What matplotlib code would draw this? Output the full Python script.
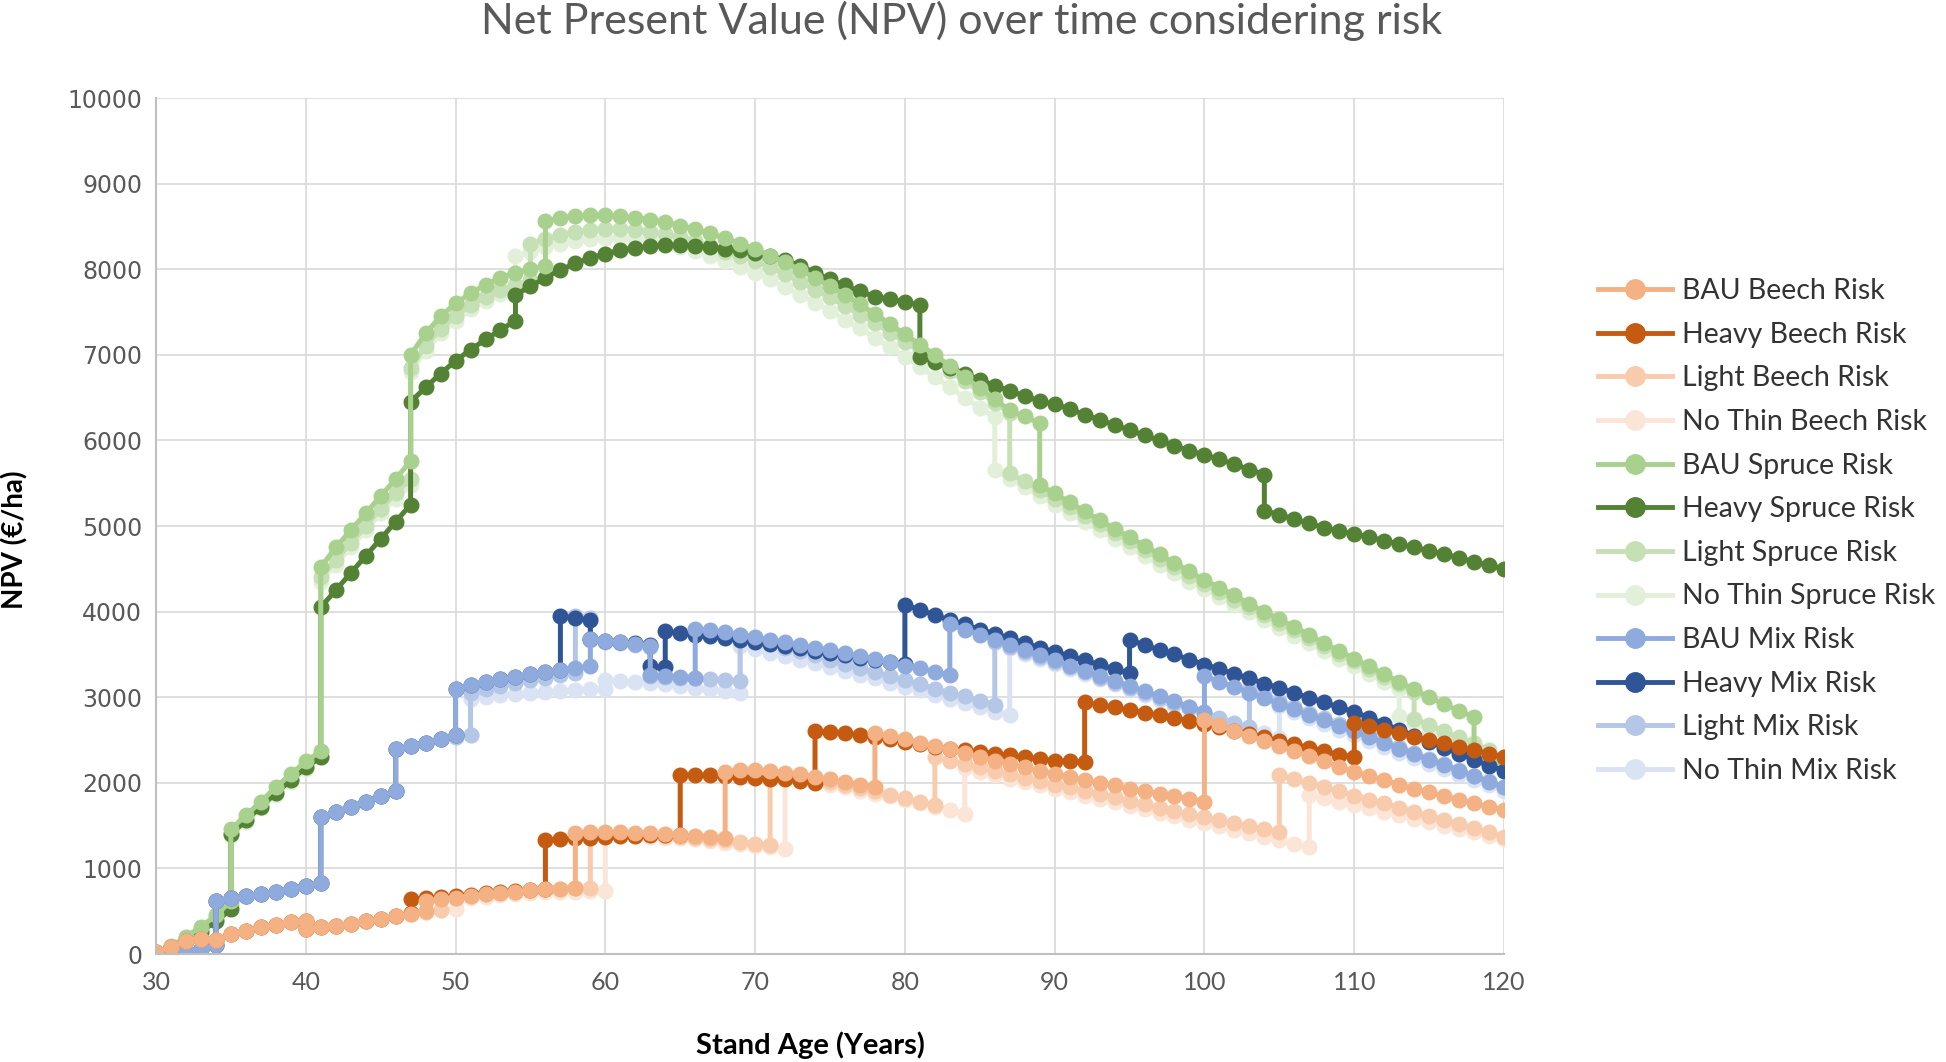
import numpy as np
import matplotlib
matplotlib.use("Agg")
import matplotlib.pyplot as plt
from matplotlib.lines import Line2D

# Each series is a list of (start age, NPV values one year apart).
# A segment that starts at the age where the previous one ended gives the
# vertical jump of a thinning / risk event.

beech_start = [20, 80, 150, 180, 160, 230, 270, 310, 340, 370, 390]  # ages 30..40

bau_beech = [(30, beech_start),
             (40, [290, 310, 330, 350, 380, 410, 440, 470, 500]),
             (48, [620, 640, 660, 680, 700, 715, 730, 745, 755, 765, 775]),
             (58, [1410, 1420, 1420, 1420, 1415, 1410, 1400, 1390, 1380, 1370, 1355]),
             (68, [2130, 2150, 2150, 2140, 2120, 2100, 2070, 2040, 2010, 1980, 1950]),
             (78, [2580, 2550, 2510, 2470, 2430, 2390, 2350, 2300, 2260, 2220, 2180, 2140,
                   2100, 2070, 2030, 2000, 1970, 1930, 1900, 1870, 1840, 1810, 1780]),
             (100, [2730, 2670, 2610, 2550, 2490, 2430, 2370, 2310, 2250, 2190, 2130,
                    2080, 2030, 1980, 1930, 1890, 1840, 1800, 1760, 1720, 1680])]

heavy_beech = [(30, beech_start),
               (40, [290, 310, 330, 350, 380, 410, 440, 480]),
               (47, [640, 650, 665, 680, 695, 710, 725, 740, 750, 760]),
               (56, [1330, 1340, 1350, 1360, 1370, 1375, 1380, 1385, 1390, 1390]),
               (65, [2090, 2090, 2090, 2080, 2070, 2060, 2050, 2040, 2020, 2000]),
               (74, [2600, 2590, 2580, 2560, 2540, 2510, 2480, 2450, 2420, 2400, 2380,
                     2360, 2340, 2320, 2300, 2280, 2260, 2250, 2240]),
               (92, [2940, 2910, 2880, 2850, 2820, 2790, 2760, 2720, 2690, 2650, 2610,
                     2570, 2530, 2490, 2450, 2410, 2370, 2330, 2300]),
               (110, [2700, 2660, 2620, 2580, 2540, 2500, 2460, 2420, 2380, 2340, 2300])]

light_beech = [(30, beech_start),
               (40, [290, 310, 330, 350, 380, 410, 440, 470, 490, 510]),
               (49, [640, 660, 680, 700, 715, 730, 745, 755, 765, 770, 775]),
               (59, [1400, 1400, 1400, 1395, 1390, 1380, 1370, 1360, 1345, 1330, 1310, 1290, 1270]),
               (71, [2120, 2100, 2070, 2040, 2010, 1970, 1940, 1900, 1860, 1820, 1780, 1740]),
               (82, [2300, 2260, 2220, 2180, 2140, 2100, 2060, 2020, 1980, 1950, 1910, 1870,
                     1830, 1790, 1750, 1710, 1670, 1630, 1600, 1560, 1530, 1490, 1460, 1420]),
               (105, [2090, 2040, 2000, 1950, 1900, 1850, 1800, 1760, 1710, 1660, 1610,
                      1570, 1520, 1470, 1420, 1370])]

nothin_beech = [(30, beech_start),
                (40, [290, 310, 330, 350, 380, 410, 440, 470, 490, 510, 520]),
                (50, [630, 650, 670, 690, 700, 710, 720, 725, 730, 735, 740]),
                (60, [1380, 1380, 1375, 1370, 1360, 1350, 1340, 1320, 1300, 1280, 1260, 1250, 1230]),
                (72, [2080, 2050, 2020, 1980, 1950, 1910, 1870, 1840, 1800, 1760, 1720, 1680, 1640]),
                (84, [2170, 2130, 2090, 2050, 2010, 1970, 1930, 1890, 1850, 1810, 1770, 1730,
                      1690, 1650, 1610, 1570, 1530, 1490, 1450, 1410, 1370, 1330, 1290, 1250]),
                (107, [1860, 1820, 1780, 1740, 1700, 1660, 1620, 1580, 1540, 1500, 1460,
                       1420, 1380, 1340])]

bau_spruce = [(30, [0, 90, 200, 320, 450, 620]),
              (35, [1460, 1620, 1780, 1950, 2100, 2250, 2370]),
              (41, [4520, 4750, 4950, 5150, 5350, 5550, 5760]),
              (47, [7000, 7250, 7450, 7600, 7720, 7820, 7900, 7960, 8000, 8040]),
              (56, [8560, 8600, 8620, 8630, 8630, 8620, 8600, 8580, 8550, 8510, 8470, 8420,
                    8360, 8300, 8240, 8160, 8080, 7990, 7900, 7800, 7700, 7590, 7480, 7360,
                    7240, 7120, 7000, 6870, 6740, 6610, 6480, 6350, 6280, 6200]),
              (89, [5480, 5380, 5280, 5170, 5070, 4970, 4870, 4770, 4670, 4570, 4470, 4370,
                    4280, 4190, 4090, 4000, 3910, 3820, 3730, 3630, 3540, 3450, 3360, 3270,
                    3180, 3090, 3000, 2920, 2840, 2770]),
              (118, [2330, 2260, 2200])]

heavy_spruce = [(30, [0, 70, 160, 260, 380, 520]),
                (35, [1400, 1560, 1720, 1880, 2030, 2180, 2300]),
                (41, [4050, 4250, 4450, 4650, 4850, 5050, 5250]),
                (47, [6450, 6620, 6780, 6930, 7060, 7180, 7290, 7400]),
                (54, [7700, 7800, 7900, 7990, 8070, 8130, 8180, 8220, 8250, 8270, 8280, 8280,
                      8270, 8260, 8240, 8220, 8190, 8150, 8110, 8040, 7960, 7880, 7810, 7740,
                      7680, 7650, 7620, 7580]),
                (81, [6980, 6920, 6850, 6780, 6710, 6640, 6580, 6520, 6460, 6420, 6370, 6300,
                      6240, 6180, 6120, 6060, 6000, 5940, 5880, 5830, 5780, 5720, 5660, 5600]),
                (104, [5180, 5130, 5080, 5030, 4980, 4940, 4910, 4870, 4830, 4790, 4750,
                       4710, 4670, 4630, 4580, 4540, 4500])]

light_spruce = [(30, [0, 80, 180, 290, 420, 580]),
                (35, [1400, 1560, 1720, 1890, 2040, 2190, 2330]),
                (41, [4400, 4600, 4800, 5000, 5200, 5380, 5550]),
                (47, [6850, 7100, 7300, 7450, 7580, 7680, 7760, 7820, 7870]),
                (55, [8300, 8350, 8400, 8440, 8460, 8470, 8470, 8460, 8440, 8410, 8380, 8330,
                      8270, 8200, 8150, 8100, 8020, 7940, 7850, 7760, 7670, 7570, 7470, 7370,
                      7260, 7150, 7040, 6930, 6810, 6690, 6570, 6440, 6320]),
                (87, [5620, 5520, 5420, 5320, 5220, 5120, 5020, 4920, 4820, 4720, 4620, 4520,
                      4420, 4320, 4230, 4140, 4050, 3960, 3870, 3780, 3690, 3600, 3510, 3420,
                      3330, 3240, 3150, 3060]),
                (114, [2750, 2680, 2600, 2530, 2460, 2380, 2300])]

nothin_spruce = [(30, [0, 70, 170, 280, 400, 560]),
                 (35, [1380, 1540, 1700, 1860, 2010, 2160, 2300]),
                 (41, [4350, 4550, 4750, 4950, 5150, 5320, 5480]),
                 (47, [6800, 7050, 7250, 7400, 7530, 7630, 7710, 7770]),
                 (54, [8150, 8200, 8260, 8300, 8330, 8350, 8360, 8360, 8350, 8330, 8300, 8260,
                       8210, 8150, 8090, 8030, 7960, 7880, 7790, 7700, 7610, 7510, 7410, 7310,
                       7200, 7090, 6980, 6860, 6740, 6620, 6500, 6380, 6270]),
                 (86, [5650, 5550, 5450, 5350, 5250, 5150, 5050, 4950, 4850, 4750, 4650, 4550,
                       4450, 4350, 4260, 4170, 4080, 3990, 3900, 3810, 3720, 3630, 3540, 3450,
                       3360, 3270, 3180, 3090]),
                 (113, [2780, 2700, 2630, 2560, 2490, 2410, 2340, 2270])]

mix_start = [0, 10, 30, 60, 100]                       # ages 30..34
mix_34 = [620, 650, 680, 700, 730, 760, 800, 830]      # ages 34..41
mix_41 = [1600, 1660, 1720, 1780, 1840, 1900]          # ages 41..46

bau_mix = [(30, mix_start), (34, mix_34), (41, mix_41),
           (46, [2390, 2430, 2470, 2510, 2560]),
           (50, [3100, 3140, 3180, 3210, 3240, 3270, 3290, 3320, 3340, 3360]),
           (59, [3680, 3660, 3640, 3620, 3600]),
           (63, [3260, 3250, 3240, 3230]),
           (66, [3800, 3780, 3760, 3730, 3700, 3670, 3640, 3610, 3580, 3550, 3520, 3480,
                 3450, 3410, 3370, 3340, 3300, 3260]),
           (83, [3850, 3790, 3730, 3670, 3610, 3550, 3490, 3430, 3370, 3310, 3250, 3190,
                 3130, 3070, 3010, 2950, 2890, 2830]),
           (100, [3250, 3180, 3120, 3050, 2990, 2920, 2860, 2790, 2730, 2660, 2600, 2530,
                  2470, 2400, 2340, 2270, 2210, 2140, 2080, 2010, 1950])]

heavy_mix = [(30, mix_start), (34, mix_34), (41, mix_41),
             (46, [2390, 2430, 2470, 2510, 2560]),
             (50, [3100, 3140, 3180, 3210, 3240, 3270, 3290, 3320]),
             (57, [3950, 3920, 3900]),
             (59, [3680, 3660, 3650, 3630, 3610]),
             (63, [3360, 3350]),
             (64, [3770, 3750, 3730, 3710, 3690, 3670, 3650, 3620, 3600, 3570, 3540, 3520,
                   3490, 3460, 3440, 3410, 3390]),
             (80, [4080, 4020, 3960, 3900, 3850, 3790, 3740, 3690, 3630, 3580, 3530, 3480,
                   3430, 3380, 3330, 3280]),
             (95, [3670, 3610, 3550, 3500, 3440, 3380, 3330, 3270, 3220, 3160, 3110, 3050,
                   2990, 2940, 2880, 2830, 2760, 2690, 2620, 2550, 2480, 2410, 2340, 2270,
                   2200, 2140])]

light_mix = [(30, mix_start), (34, mix_34), (41, mix_41),
             (46, [2390, 2430, 2470, 2510, 2540, 2560]),
             (51, [3050, 3090, 3130, 3170, 3200, 3230, 3260, 3280]),
             (58, [3950, 3930]),
             (59, [3670, 3650, 3630, 3610, 3590]),
             (63, [3250, 3240, 3230, 3220, 3210, 3200, 3190]),
             (69, [3730, 3680, 3630, 3580, 3540, 3490, 3440, 3390, 3340, 3290, 3250, 3200,
                   3150, 3100, 3050, 3010, 2960, 2910]),
             (86, [3650, 3590, 3530, 3470, 3410, 3350, 3290, 3230, 3170, 3110, 3050, 2990,
                   2930, 2880, 2820, 2760, 2700, 2650]),
             (103, [3100, 3030, 2960, 2890, 2820, 2760, 2690, 2620, 2550, 2490, 2420, 2350,
                    2280, 2220, 2150, 2080, 2020, 1950])]

nothin_mix = [(30, mix_start), (34, mix_34), (41, mix_41),
              (46, [2390, 2430, 2470, 2510, 2540, 2560]),
              (51, [2980, 3000, 3020, 3040, 3050, 3060, 3070, 3080, 3090, 3100]),
              (60, [3200, 3190, 3180, 3170, 3150, 3130, 3110, 3090, 3070, 3050]),
              (69, [3600, 3560, 3520, 3480, 3440, 3400, 3350, 3310, 3260, 3220, 3170, 3120,
                    3080, 3030, 2980, 2930, 2880, 2830, 2790]),
              (87, [3570, 3510, 3450, 3390, 3330, 3270, 3210, 3150, 3090, 3030, 2970, 2910,
                    2860, 2800, 2740, 2690, 2630, 2580, 2520]),
              (105, [2900, 2830, 2760, 2690, 2620, 2560, 2490, 2420, 2350, 2290, 2220, 2160,
                     2090, 2030, 1970, 1900])]

legend_names = ["BAU Beech Risk", "Heavy Beech Risk", "Light Beech Risk", "No Thin Beech Risk",
                "BAU Spruce Risk", "Heavy Spruce Risk", "Light Spruce Risk", "No Thin Spruce Risk",
                "BAU Mix Risk", "Heavy Mix Risk", "Light Mix Risk", "No Thin Mix Risk"]
colors = ["#f4b183", "#c55a11", "#f8cbad", "#fbe5d6",
          "#a9d18e", "#548235", "#c5e0b4", "#e2f0d9",
          "#8faadc", "#2f5597", "#b4c7e7", "#dae3f3"]
series = [bau_beech, heavy_beech, light_beech, nothin_beech,
          bau_spruce, heavy_spruce, light_spruce, nothin_spruce,
          bau_mix, heavy_mix, light_mix, nothin_mix]

# drawing order: spruce, mix, beech; inside each group BAU ends on top
draw_order = [7, 6, 5, 4, 11, 10, 9, 8, 3, 2, 1, 0]


def expand(segments):
    ages, vals = [], []
    for start, values in segments:
        ages.extend(start + np.arange(len(values)))
        vals.extend(values)
    return ages, vals


plt.rcParams['font.family'] = ['Lato', 'DejaVu Sans']
fig = plt.figure(figsize=(19.46, 10.62), dpi=100)
ax = fig.add_axes([156 / 1946, 1 - 954 / 1062, (1504 - 156) / 1946, (954 - 98) / 1062])

for k in draw_order:
    x, y = expand(series[k])
    ax.plot(x, y, color=colors[k], lw=3.6, marker='o', ms=10.5,
            mfc=colors[k], mec=colors[k], solid_joinstyle='round')

ax.set_xlim(30, 120)
ax.set_ylim(0, 10000)
ax.set_xticks(np.arange(30, 121, 10))
ax.set_yticks(np.arange(0, 10001, 1000))
ax.grid(True, color='#d9d9d9', lw=1.2)
ax.set_axisbelow(True)
for s in ['top', 'right']:
    ax.spines[s].set_visible(False)
for s in ['left', 'bottom']:
    ax.spines[s].set_color('#bfbfbf')
    ax.spines[s].set_linewidth(1.5)
ax.tick_params(length=0, colors='#595959')
ax.tick_params(axis='x', labelsize=18, pad=12)
ax.tick_params(axis='y', labelsize=17, pad=10)
for lab in ax.get_yticklabels():
    lab.set_family('DejaVu Sans')

fig.text(962 / 1946, 1 - 21 / 1062, "Net Present Value (NPV) over time considering risk",
         ha='center', va='center', fontsize=31, color='#595959')
fig.text(15 / 1946, 1 - 540 / 1062, "NPV (€/ha)", rotation=90, ha='center', va='center',
         fontsize=20, fontweight='bold', color='black')
fig.text(810 / 1946, 1 - 1045 / 1062, "Stand Age (Years)", ha='center', va='center',
         fontsize=21, fontweight='bold', color='black')

handles = [Line2D([0], [0], color=c, lw=3.5, marker='o', ms=14, mfc=c, mec=c) for c in colors]
fig.legend(handles, legend_names, loc='center left', bbox_to_anchor=(1572 / 1946, 0.5),
           frameon=False, fontsize=20.5, labelspacing=0.62, handlelength=2.6,
           handletextpad=0.35, labelcolor='#333333')

fig.savefig("out.png", dpi=100)
